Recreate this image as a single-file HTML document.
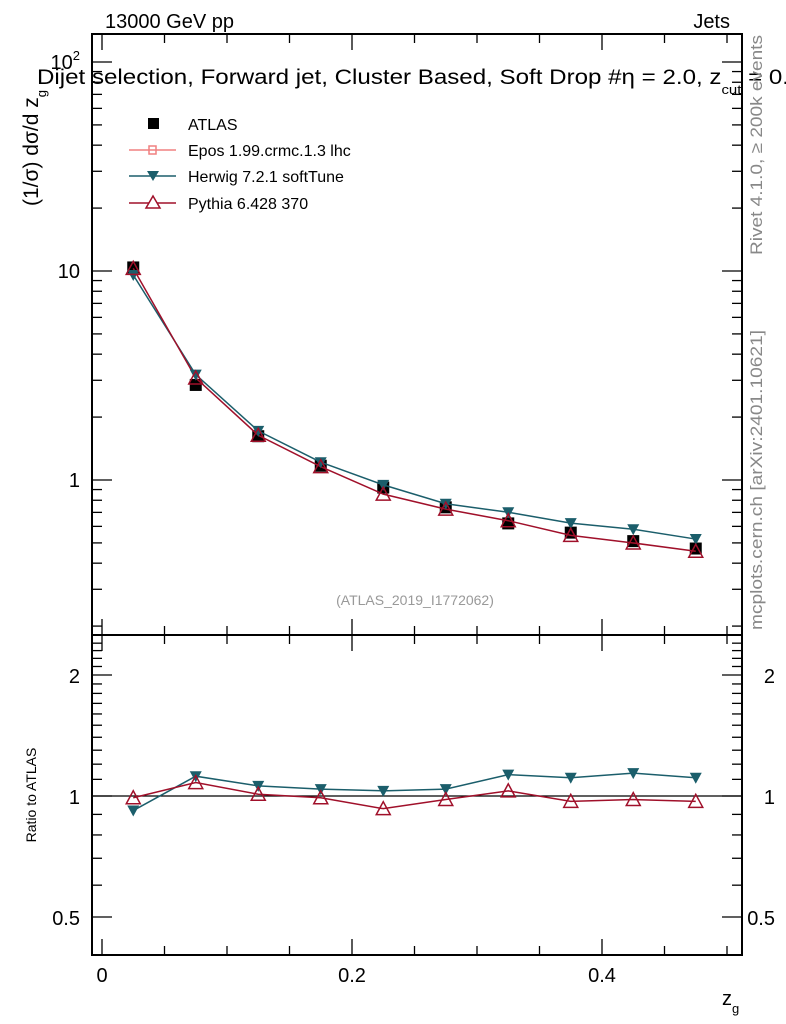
<!DOCTYPE html>
<html><head><meta charset="utf-8"><style>
html,body{margin:0;padding:0;background:#fff;}
svg{display:block;font-family:"Liberation Sans",sans-serif;}
</style></head><body>
<svg id="chart" width="786" height="1024" viewBox="0 0 786 1024" xmlns="http://www.w3.org/2000/svg">
<g id="texts">
<text x="105" y="28" font-size="20">13000 GeV pp</text>
<text x="730" y="28" font-size="20" text-anchor="end">Jets</text>
<text x="37" y="84" font-size="21" textLength="752" lengthAdjust="spacingAndGlyphs">Dijet selection, Forward jet, Cluster Based, Soft Drop #η = 2.0, z<tspan font-size="13" dy="10">cut</tspan><tspan dy="-10"> = 0.</tspan></text>
<text transform="translate(38,148) rotate(-90)" font-size="21" text-anchor="middle">(1/σ) dσ/d z<tspan font-size="13" dy="8">g</tspan></text>
<text transform="translate(36,795) rotate(-90)" font-size="14" text-anchor="middle">Ratio to ATLAS</text>
<text x="722" y="1005" font-size="20">z<tspan font-size="13" dy="8">g</tspan></text>
<text transform="translate(762,255) rotate(-90)" font-size="17" fill="#888" textLength="220" lengthAdjust="spacingAndGlyphs">Rivet 4.1.0, ≥ 200k events</text>
<text transform="translate(762,630) rotate(-90)" font-size="17" fill="#888" textLength="300" lengthAdjust="spacingAndGlyphs">mcplots.cern.ch [arXiv:2401.10621]</text>
<text x="415" y="605" font-size="14" fill="#999" text-anchor="middle">(ATLAS_2019_I1772062)</text>
</g>
<g id="axes"></g>
<g id="marks"></g>
<g id="legend">
<rect x="148" y="118" width="11" height="11" fill="#000"/>
<text x="188" y="130" font-size="16">ATLAS</text>
<line x1="129" y1="150" x2="176" y2="150" stroke="#f08080" stroke-width="1.5"/>
<rect x="149" y="146" width="7" height="8" fill="none" stroke="#f08080" stroke-width="1.5"/>
<text x="188" y="156" font-size="16">Epos 1.99.crmc.1.3 lhc</text>
<line x1="129" y1="176" x2="176" y2="176" stroke="#1b5e6b" stroke-width="1.5"/>
<path d="M147,171 L159,171 L153,181 Z" fill="#1b5e6b"/>
<text x="188" y="182" font-size="16">Herwig 7.2.1 softTune</text>
<line x1="129" y1="203" x2="176" y2="203" stroke="#a0102a" stroke-width="1.5"/>
<path d="M146,208 L160,208 L153,196 Z" fill="#fff" stroke="#a0102a" stroke-width="1.5"/>
<text x="188" y="209" font-size="16">Pythia 6.428 370</text>
</g>
</svg>
<script>
const categories = [0.025,0.075,0.125,0.175,0.225,0.275,0.325,0.375,0.425,0.475];
const atlasValues = [10.4,2.85,1.62,1.17,0.92,0.74,0.62,0.56,0.51,0.47];
const herwigRatio = [0.92,1.12,1.06,1.04,1.03,1.04,1.13,1.11,1.14,1.11];
const pythiaRatio = [0.99,1.08,1.01,0.99,0.93,0.98,1.03,0.97,0.98,0.97];
const xTickLabels = ["0","0.2","0.4"];
const xTickValues = [0,0.2,0.4];
const mainTickLabels = ["1","10"];
const mainTickValues = [1,10];
const ratioTickLabels = ["0.5","1","2"];
const ratioTickValues = [0.5,1,2];

const NS="http://www.w3.org/2000/svg";
const L=92,R=742,MT=34,MB=635,RB=955;
const xs=v=>102+v*1250;
const ym=v=>480-Math.log10(v)*209;
const yr=v=>796-Math.log2(v)*121;
const axes=document.getElementById('axes'), marks=document.getElementById('marks');
function mk(tag,attrs,parent){const e=document.createElementNS(NS,tag);for(const k in attrs)e.setAttribute(k,attrs[k]);parent.appendChild(e);return e;}
function ln(x1,y1,x2,y2,p,w){return mk('line',{x1,y1,x2,y2,stroke:'#000','stroke-width':w||1.3},p);}
let f1=mk('rect',{x:L,y:MT,width:R-L,height:MB-MT,fill:'none',stroke:'#000','stroke-width':2},axes);


let f2=mk('rect',{x:L,y:MB,width:R-L,height:RB-MB,fill:'none',stroke:'#000','stroke-width':2},axes);


for(let v=0;v<=0.5001;v+=0.05){const x=xs(v);const maj=Math.abs(v/0.1-Math.round(v/0.1))<1e-6&&Math.round(v*10)%2===0;const h=maj?16:9;
 ln(x,MT,x,MT+h,axes);ln(x,MB,x,MB-h,axes);ln(x,MB,x,MB+h,axes);ln(x,RB,x,RB-h,axes);}
xTickValues.forEach((v,i)=>{const t=mk('text',{x:xs(v),y:982,'font-size':20,'text-anchor':'middle'},axes);t.textContent=xTickLabels[i];
 
 });
for(let d=-1;d<=2;d++)for(let m=1;m<=9;m++){const v=m*Math.pow(10,d);const y=ym(v);if(y<MT||y>MB)continue;const h=m===1?20:10;
 ln(L,y,L+h,y,axes);ln(R,y,R-h,y,axes);}
mainTickValues.forEach((v,i)=>{const t=mk('text',{x:80,y:ym(v)+7,'font-size':20,'text-anchor':'end'},axes);t.textContent=mainTickLabels[i];
 
 });
const t100=mk('text',{x:80,y:ym(100)+7,'font-size':20,'text-anchor':'end'},axes);t100.innerHTML='10<tspan font-size="13" dy="-9">2</tspan>';


for(let v=0.4;v<=2.6;v+=0.1){const y=yr(v);if(y<MB+2||y>RB-2)continue;const maj=ratioTickValues.some(r=>Math.abs(r-v)<1e-6);const h=maj?20:10;
 ln(L,y,L+h,y,axes);ln(R,y,R-h,y,axes);}
ratioTickValues.forEach((v,i)=>{[80,775].forEach(x=>{const t=mk('text',{x,y:yr(v)+8,'font-size':20,'text-anchor':'end'},axes);t.textContent=ratioTickLabels[i];
 
 });});
const one=ln(L,yr(1),R,yr(1),axes,1.3);


const herwigVals=atlasValues.map((a,i)=>a*herwigRatio[i]);
const pythiaVals=atlasValues.map((a,i)=>a*pythiaRatio[i]);
function poly(vals,yf,col,name){const p=mk('polyline',{points:categories.map((c,i)=>xs(c)+','+yf(vals[i])).join(' '),fill:'none',stroke:col,'stroke-width':1.5},marks);
 
 }
function down(x,y,col){const p=mk('path',{d:`M${x-6},${y-5} L${x+6},${y-5} L${x},${y+6} Z`,fill:col},marks);
 
 }
function up(x,y,col){const p=mk('path',{d:`M${x-7},${y+6} L${x+7},${y+6} L${x},${y-7} Z`,fill:'#fff','fill-opacity':0,stroke:col,'stroke-width':1.5},marks);
 
 }
categories.forEach((c,i)=>{const r=mk('rect',{x:xs(c)-6,y:ym(atlasValues[i])-6,width:12,height:12,fill:'#000'},marks);
 
 });
poly(herwigVals,ym,'#1b5e6b','herwig-line');
poly(pythiaVals,ym,'#a0102a','pythia-line');
poly(herwigRatio,yr,'#1b5e6b','herwig-ratio-line');
poly(pythiaRatio,yr,'#a0102a','pythia-ratio-line');
categories.forEach((c,i)=>{down(xs(c),ym(herwigVals[i]),'#1b5e6b');up(xs(c),ym(pythiaVals[i]),'#a0102a');
 down(xs(c),yr(herwigRatio[i]),'#1b5e6b');up(xs(c),yr(pythiaRatio[i]),'#a0102a');});
</script>
</body></html>
